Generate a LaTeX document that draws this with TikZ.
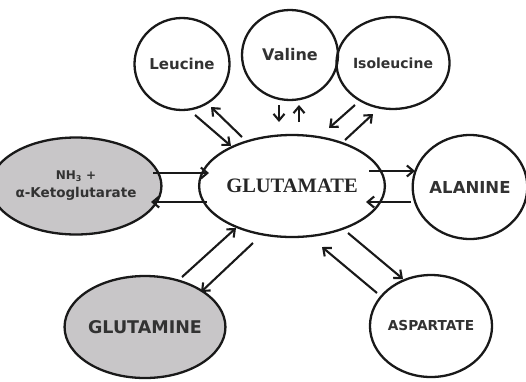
\documentclass[tikz,border=0pt]{standalone}
\usepackage{fontspec}
\setmainfont{DejaVu Sans}
\newfontfamily\labfont{DejaVu Sans}
\newfontfamily\serfont{Liberation Serif}
\usetikzlibrary{shapes.geometric,arrows.meta}
\definecolor{fillgray}{RGB}{200,198,200}
\definecolor{txtgray}{RGB}{50,50,50}
\begin{document}
\begin{tikzpicture}[x=1pt,y=-1pt,
  blob/.style={ellipse,draw=black!90,line width=2.3pt,inner sep=0pt,text=txtgray,align=center},
  arr/.style={line width=2.1pt,draw=black!90,-{Straight Barb[length=6.5pt,width=11pt,line width=2.1pt]}}]
\useasboundingbox (0,0) rectangle (526,381);
% nodes
\node[blob,minimum width=95pt,minimum height=92pt,font=\labfont\bfseries\fontsize{15}{17}\selectfont] (leu) at (182,64) {Leucine};
\node[blob,minimum width=96pt,minimum height=90pt,font=\labfont\bfseries\fontsize{16}{18}\selectfont] (val) at (290,55) {Valine};
\node[blob,minimum width=95pt,minimum height=92pt,font=\labfont\bfseries\fontsize{14}{16}\selectfont] (iso) at (393,63) {Isoleucine};
\node[blob,fill=fillgray,minimum width=137pt,minimum height=97pt,font=\labfont\bfseries\fontsize{13.5}{19}\selectfont] (nh) at (76,186) {{\fontsize{12}{14}\selectfont NH\textsubscript{3} +}\\[-1pt]α-Ketoglutarate};
\node[blob,minimum width=148pt,minimum height=102pt,text=black!85,font=\serfont\bfseries\fontsize{20.5}{22}\selectfont] (glu) at (292,186) {GLUTAMATE};
\node[blob,minimum width=105pt,minimum height=104pt,font=\labfont\bfseries\fontsize{16.5}{18}\selectfont] (ala) at (470,187) {ALANINE};
\node[blob,fill=fillgray,minimum width=136pt,minimum height=102pt,font=\labfont\bfseries\fontsize{17.5}{19}\selectfont] (gln) at (145,327) {GLUTAMINE};
\node[blob,minimum width=112pt,minimum height=102pt,font=\labfont\bfseries\fontsize{13.7}{15}\selectfont] (asp) at (431,326) {ASPARTATE};
% arrow end points
\coordinate (l1) at (195,115); \coordinate (l2) at (231,146);
\coordinate (l3) at (242,137); \coordinate (l4) at (211,107);
\coordinate (v1) at (279,105); \coordinate (v2) at (279,122);
\coordinate (v3) at (299,122); \coordinate (v4) at (299,105);
\coordinate (i1) at (355,105); \coordinate (i2) at (329,128);
\coordinate (i3) at (345,140); \coordinate (i4) at (373,114);
\coordinate (n1) at (153,173); \coordinate (n2) at (209,173);
\coordinate (n3) at (207,202); \coordinate (n4) at (151,202);
\coordinate (a1) at (369,171); \coordinate (a2) at (415,171);
\coordinate (a3) at (411,202); \coordinate (a4) at (366,202);
\coordinate (g1) at (182,277); \coordinate (g2) at (236,228);
\coordinate (g3) at (253,243); \coordinate (g4) at (201,292);
\coordinate (s1) at (348,233); \coordinate (s2) at (403,279);
\coordinate (s3) at (377,293); \coordinate (s4) at (322,247);
% connectors
\draw[arr] (l1) -- (l2);
\draw[arr] (l3) -- (l4);
\draw[arr] (v1) -- (v2);
\draw[arr] (v3) -- (v4);
\draw[arr] (i1) -- (i2);
\draw[arr] (i3) -- (i4);
\draw[arr] (n1) -- (n2);
\draw[arr] (n3) -- (n4);
\draw[arr] (a1) -- (a2);
\draw[arr] (a3) -- (a4);
\draw[arr] (g1) -- (g2);
\draw[arr] (g3) -- (g4);
\draw[arr] (s1) -- (s2);
\draw[arr] (s3) -- (s4);
\end{tikzpicture}
\end{document}
